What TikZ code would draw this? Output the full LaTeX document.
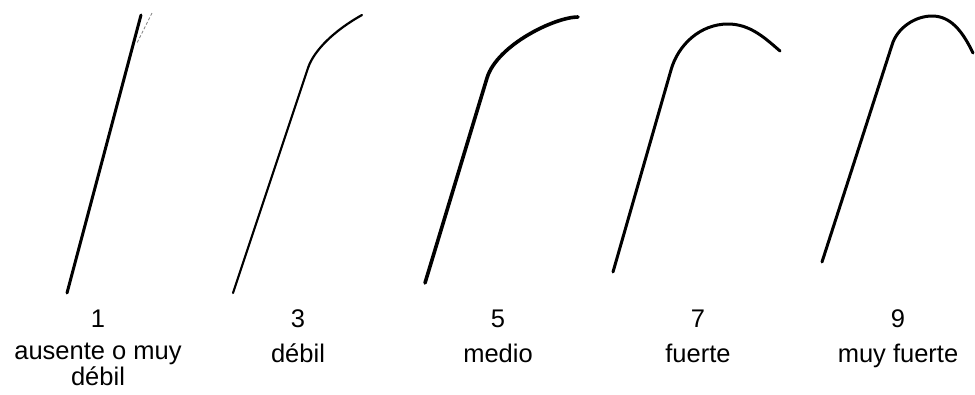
\documentclass[tikz,border=0pt]{standalone}
\usepackage{fontspec}
\setmainfont{Liberation Sans}
\tikzstyle{tige} = [line width=3pt, line cap=round, line join=round]
\tikzstyle{etiq} = [anchor=base, inner sep=0pt, font=\fontsize{25.5}{23}\selectfont, align=center]

\begin{document}
\begin{tikzpicture}[x=1pt, y=-1pt]

            \useasboundingbox (0,0) rectangle (975,394);

            %% tiges

            \draw [tige] (67,293) -- (141,15);
            \draw [gray, line width=0.8pt, dash pattern=on 3pt off 2pt] (152,13) -- (137,43);

            \draw [tige, line width=2.2pt] (233,293) -- (308,68)
                .. controls (314,50) and (335,30) .. (362,15);

            \draw [tige, line width=3.6pt] (425,283) -- (487,78)
                .. controls (497,45) and (555,17) .. (578,17);

            \draw [tige] (613,272) -- (671,70)
                .. controls (678,45) and (700,24) .. (728,24)
                .. controls (750,24) and (765,38) .. (780,51);

            \draw [tige] (822,262) -- (892,45)
                .. controls (897,28) and (915,16) .. (932,16)
                .. controls (950,16) and (962,30) .. (973,53);

            %% echelle

            \node (n1) [etiq] at (98,327) {1};
            \node (n3) [etiq] at (298,327) {3};
            \node (n5) [etiq] at (498,327) {5};
            \node (n7) [etiq] at (698,327) {7};
            \node (n9) [etiq] at (898,327) {9};

            \node (l1) [etiq] at (98,385) {ausente o muy\\débil};
            \node (l3) [etiq] at (298,362) {débil};
            \node (l5) [etiq] at (498,362) {medio};
            \node (l7) [etiq] at (698,362) {fuerte};
            \node (l9) [etiq] at (898,362) {muy fuerte};

        \end{tikzpicture}
\end{document}
